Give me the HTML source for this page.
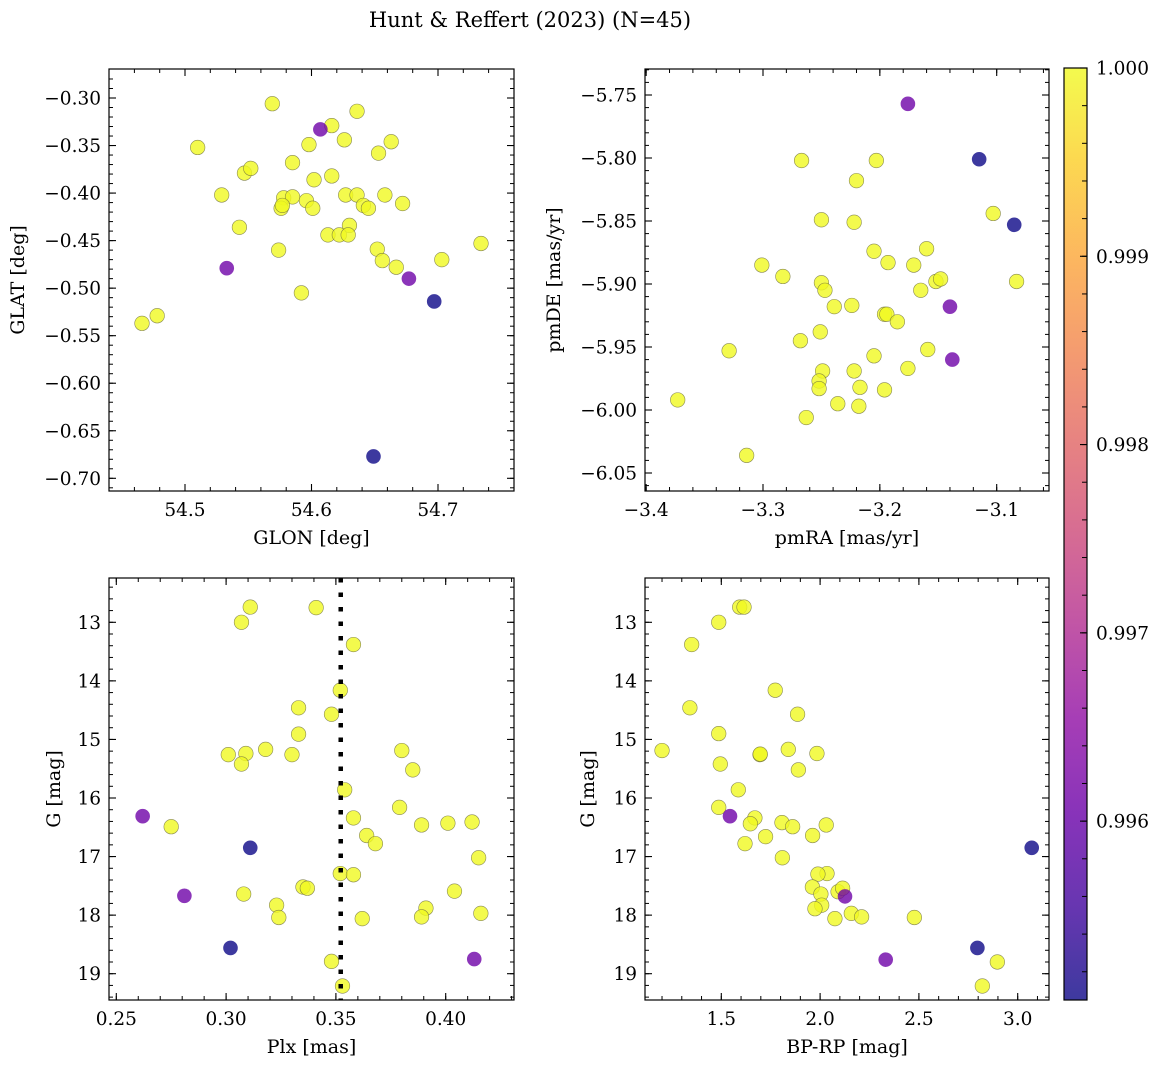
<!DOCTYPE html>
<html><head><meta charset="utf-8"><style>
html,body{margin:0;padding:0;background:#fff;}
svg{display:block;font-family:"DejaVu Serif","Liberation Serif",serif;}
</style></head><body>
<svg id="fig" width="1161" height="1068" viewBox="0 0 1161 1068" xmlns="http://www.w3.org/2000/svg">
<text x="530" y="27" text-anchor="middle" font-size="21">Hunt &amp; Reffert (2023) (N=45)</text>
</svg>
<script>
const Y=1.0, U=0.9961, D=0.99505;
// Panel 1: GLON vs GLAT
const glon=[54.569,54.636,54.616,54.607,54.510,54.598,54.626,54.663,54.653,54.585,54.547,54.552,54.602,54.616,54.529,54.578,54.585,54.596,54.576,54.577,54.601,54.627,54.636,54.641,54.645,54.658,54.672,54.543,54.630,54.613,54.622,54.629,54.574,54.652,54.656,54.667,54.703,54.734,54.533,54.677,54.592,54.697,54.478,54.466,54.649];
const glat=[-0.306,-0.314,-0.329,-0.333,-0.352,-0.349,-0.344,-0.346,-0.358,-0.368,-0.379,-0.374,-0.386,-0.382,-0.402,-0.405,-0.404,-0.408,-0.416,-0.413,-0.416,-0.402,-0.402,-0.413,-0.416,-0.402,-0.411,-0.436,-0.434,-0.444,-0.444,-0.444,-0.460,-0.459,-0.471,-0.478,-0.470,-0.453,-0.479,-0.490,-0.505,-0.514,-0.529,-0.537,-0.677];
const prob1=[Y,Y,Y,U,Y,Y,Y,Y,Y,Y,Y,Y,Y,Y,Y,Y,Y,Y,Y,Y,Y,Y,Y,Y,Y,Y,Y,Y,Y,Y,Y,Y,Y,Y,Y,Y,Y,Y,U,U,Y,D,Y,Y,D];
// Panel 2: pmRA vs pmDE
const pmra=[-3.176,-3.267,-3.203,-3.115,-3.220,-3.103,-3.085,-3.250,-3.222,-3.205,-3.160,-3.193,-3.171,-3.301,-3.283,-3.250,-3.247,-3.152,-3.148,-3.165,-3.083,-3.239,-3.224,-3.140,-3.196,-3.194,-3.185,-3.251,-3.268,-3.329,-3.205,-3.159,-3.138,-3.176,-3.249,-3.222,-3.252,-3.252,-3.217,-3.196,-3.373,-3.236,-3.218,-3.263,-3.314];
const pmde=[-5.757,-5.802,-5.802,-5.801,-5.818,-5.844,-5.853,-5.849,-5.851,-5.874,-5.872,-5.883,-5.885,-5.885,-5.894,-5.899,-5.905,-5.898,-5.896,-5.905,-5.898,-5.918,-5.917,-5.918,-5.924,-5.924,-5.930,-5.938,-5.945,-5.953,-5.957,-5.952,-5.960,-5.967,-5.969,-5.969,-5.977,-5.983,-5.982,-5.984,-5.992,-5.995,-5.997,-6.006,-6.036];
const prob2=[U,Y,Y,D,Y,Y,D,Y,Y,Y,Y,Y,Y,Y,Y,Y,Y,Y,Y,Y,Y,Y,Y,U,Y,Y,Y,Y,Y,Y,Y,Y,U,Y,Y,Y,Y,Y,Y,Y,Y,Y,Y,Y,Y];
// Panel 3: Plx vs G
const plx=[0.311,0.341,0.307,0.358,0.352,0.333,0.348,0.333,0.301,0.309,0.318,0.330,0.307,0.380,0.385,0.354,0.379,0.262,0.275,0.358,0.389,0.401,0.412,0.364,0.368,0.311,0.415,0.352,0.358,0.335,0.337,0.281,0.308,0.404,0.323,0.391,0.324,0.389,0.362,0.416,0.302,0.413,0.348,0.353];
const gmag3=[12.74,12.75,13.00,13.38,14.16,14.46,14.57,14.91,15.26,15.24,15.17,15.26,15.42,15.19,15.52,15.86,16.16,16.31,16.49,16.34,16.46,16.43,16.41,16.64,16.78,16.85,17.02,17.29,17.31,17.52,17.54,17.67,17.64,17.59,17.83,17.88,18.04,18.03,18.06,17.97,18.56,18.75,18.79,19.21];
const prob3=[Y,Y,Y,Y,Y,Y,Y,Y,Y,Y,Y,Y,Y,Y,Y,Y,Y,U,Y,Y,Y,Y,Y,Y,Y,D,Y,Y,Y,Y,Y,U,Y,Y,Y,Y,Y,Y,Y,Y,D,U,Y,Y];
const plxMedian=0.3522;
// Panel 4: BP-RP vs G
const bprp=[1.593,1.615,1.487,1.350,1.773,1.341,1.886,1.487,1.200,1.696,1.697,1.839,1.984,1.495,1.890,1.586,1.487,1.544,1.670,1.647,1.807,1.861,2.031,1.724,1.962,1.620,1.809,3.071,2.035,1.989,1.961,2.004,2.091,2.114,2.126,2.008,1.974,2.075,2.158,2.210,2.477,2.796,2.332,2.897,2.821];
const gmag4=[12.74,12.74,13.00,13.38,14.16,14.46,14.57,14.90,15.19,15.26,15.25,15.17,15.24,15.42,15.52,15.86,16.16,16.31,16.34,16.44,16.42,16.49,16.46,16.66,16.64,16.78,17.02,16.85,17.29,17.30,17.52,17.64,17.60,17.54,17.68,17.83,17.89,18.06,17.97,18.03,18.04,18.56,18.76,18.80,19.21];
const prob4=[Y,Y,Y,Y,Y,Y,Y,Y,Y,Y,Y,Y,Y,Y,Y,Y,Y,U,Y,Y,Y,Y,Y,Y,Y,Y,Y,D,Y,Y,Y,Y,Y,Y,U,Y,Y,Y,Y,Y,Y,D,U,Y,Y];
const xt1=[54.5,54.6,54.7], yt1=[-0.30,-0.35,-0.40,-0.45,-0.50,-0.55,-0.60,-0.65,-0.70];
const xt2=[-3.4,-3.3,-3.2,-3.1], yt2=[-5.75,-5.80,-5.85,-5.90,-5.95,-6.00,-6.05];
const xt3=[0.25,0.30,0.35,0.40], yt34=[13,14,15,16,17,18,19];
const xt4=[1.5,2.0,2.5,3.0];
const cbTicks=[1.000,0.999,0.998,0.997,0.996];
const vmin=0.99505, vmax=1.0;

const NS='http://www.w3.org/2000/svg';
const svg=document.getElementById('fig');
const TF=18.5, LF=19;
function mk(tag,attrs,parent){const e=document.createElementNS(NS,tag);for(const k in attrs)e.setAttribute(k,attrs[k]);(parent||svg).appendChild(e);return e;}
const stops=['#0d0887','#41049d','#6a00a8','#8f0da4','#b12a90','#cc4778','#e16462','#f2844b','#fca636','#fcce25','#f0f921'];
function hex(h){return [1,3,5].map(i=>parseInt(h.substr(i,2),16));}
function plasma(t){t=Math.max(0,Math.min(1,t));const f=t*10,i=Math.min(9,Math.floor(f)),r=f-i;const a=hex(stops[i]),b=hex(stops[i+1]);return 'rgb('+a.map((v,k)=>Math.round(v+(b[k]-v)*r)).join(',')+')';}
function lin(v0,p0,v1,p1){return v=>p0+(v-v0)*(p1-p0)/(v1-v0);}
function decimals(a){return Math.max(...a.map(v=>{const s=String(v);return s.includes('.')?s.split('.')[1].length:0;}));}
function range(step,a,b){const r=[];const s=Math.ceil(Math.min(a,b)/step-1e-6);for(let k=s;k*step<=Math.max(a,b)+1e-9;k++)r.push(k*step);return r;}

function panel(o){
  const g=mk('g',{});
  
  
  const sx=lin(o.xv[0],o.xp[0],o.xv[1],o.xp[1]), sy=lin(o.yv[0],o.yp[0],o.yv[1],o.yp[1]);
  const x0=o.box[0],x1=o.box[1],y0=o.box[2],y1=o.box[3];
  const clipId='c'+o.name;
  const cp=mk('clipPath',{id:clipId},g);mk('rect',{x:x0,y:y0,width:x1-x0,height:y1-y0},cp);
  const pg=mk('g',{'clip-path':'url(#'+clipId+')'},g);
  const idx=o.xs.map((_,i)=>i).sort((a,b)=>o.c[b]-o.c[a]);
  idx.forEach(i=>{
    const isY=o.c[i]>0.9999;
    const c=mk('circle',{cx:sx(o.xs[i]),cy:sy(o.ys[i]),r:7.3,fill:plasma((o.c[i]-vmin)/(vmax-vmin)),'fill-opacity':0.8,stroke:isY?'#6e6e40':'none','stroke-width':0.6,'stroke-opacity':0.8},pg);
    
    
  });
  if(o.vline!==undefined){
    const l=mk('line',{x1:sx(o.vline),x2:sx(o.vline),y1:y0,y2:y1,stroke:'#000','stroke-width':4.5,'stroke-dasharray':'4.5 10'},pg);
    
    
  }
  const fr=mk('rect',{x:x0,y:y0,width:x1-x0,height:y1-y0,fill:'none',stroke:'#000','stroke-width':1.2},g);
  
  
  const xa=(x0-o.xp[0])*(o.xv[1]-o.xv[0])/(o.xp[1]-o.xp[0])+o.xv[0], xb=(x1-o.xp[0])*(o.xv[1]-o.xv[0])/(o.xp[1]-o.xp[0])+o.xv[0];
  const ya=(y0-o.yp[0])*(o.yv[1]-o.yv[0])/(o.yp[1]-o.yp[0])+o.yv[0], yb=(y1-o.yp[0])*(o.yv[1]-o.yv[0])/(o.yp[1]-o.yp[0])+o.yv[0];
  range(o.xminor,xa,xb).forEach(v=>{const p=sx(v);if(p<x0+0.5||p>x1-0.5)return;mk('line',{x1:p,x2:p,y1:y1,y2:y1-4,stroke:'#000'},g);mk('line',{x1:p,x2:p,y1:y0,y2:y0+4,stroke:'#000'},g);});
  range(o.yminor,ya,yb).forEach(v=>{const p=sy(v);if(p<y0+0.5||p>y1-0.5)return;mk('line',{x1:x0,x2:x0+4,y1:p,y2:p,stroke:'#000'},g);mk('line',{x1:x1,x2:x1-4,y1:p,y2:p,stroke:'#000'},g);});
  const dx=decimals(o.xt), dy=decimals(o.yt);
  o.xt.forEach(v=>{const p=sx(v);if(p<x0-1||p>x1+1)return;
    mk('line',{x1:p,x2:p,y1:y1,y2:y1-7,stroke:'#000','stroke-width':1.1},g);mk('line',{x1:p,x2:p,y1:y0,y2:y0+7,stroke:'#000','stroke-width':1.1},g);
    const t=mk('text',{x:p,y:y1+25,'text-anchor':'middle','font-size':TF},g);t.textContent=(v<0?'\u2212':'')+Math.abs(v).toFixed(dx);
    
    });
  o.yt.forEach(v=>{const p=sy(v);if(p<y0-1||p>y1+1)return;
    mk('line',{x1:x0,x2:x0+7,y1:p,y2:p,stroke:'#000','stroke-width':1.1},g);mk('line',{x1:x1,x2:x1-7,y1:p,y2:p,stroke:'#000','stroke-width':1.1},g);
    const t=mk('text',{x:x0-8,y:p+6.5,'text-anchor':'end','font-size':TF},g);t.textContent=(v<0?'\u2212':'')+Math.abs(v).toFixed(dy);
    
    });
  const xl=mk('text',{x:(x0+x1)/2,y:y1+53,'text-anchor':'middle','font-size':LF},g);xl.textContent=o.xlabel;
  
  
  const yl=mk('text',{x:o.ylx,y:(y0+y1)/2,'text-anchor':'middle','font-size':LF,transform:'rotate(-90 '+o.ylx+' '+((y0+y1)/2)+')'},g);yl.textContent=o.ylabel;
  
  
}
panel({name:'panel-position',box:[109,514,69,491],xv:[54.5,54.7],xp:[185,438],yv:[-0.30,-0.70],yp:[98,478.3],xs:glon,ys:glat,c:prob1,xt:xt1,yt:yt1,xminor:0.02,yminor:0.01,xlabel:'GLON [deg]',ylabel:'GLAT [deg]',ylx:24});
panel({name:'panel-proper-motion',box:[645,1049,69,491],xv:[-3.3,-3.1],xp:[763,996.7],yv:[-5.75,-6.05],yp:[95,473],xs:pmra,ys:pmde,c:prob2,xt:xt2,yt:yt2,xminor:0.02,yminor:0.01,xlabel:'pmRA [mas/yr]',ylabel:'pmDE [mas/yr]',ylx:560});
panel({name:'panel-parallax',box:[109,514,578,1000],xv:[0.25,0.40],xp:[116.3,445.7],yv:[13,19],yp:[622.3,973.7],xs:plx,ys:gmag3,c:prob3,xt:xt3,yt:yt34,xminor:0.01,yminor:0.2,xlabel:'Plx [mas]',ylabel:'G [mag]',ylx:60,vline:plxMedian});
panel({name:'panel-cmd',box:[645,1049,578,1000],xv:[1.5,3.0],xp:[721.3,1017.7],yv:[13,19],yp:[622.3,973.7],xs:bprp,ys:gmag4,c:prob4,xt:xt4,yt:yt34,xminor:0.1,yminor:0.2,xlabel:'BP-RP [mag]',ylabel:'G [mag]',ylx:594});

// colorbar
const cb=mk('g',{});


const cx0=1064,cx1=1087,cy0=68,cy1=1000;
const defs=mk('defs',{},cb);const lg=mk('linearGradient',{id:'cbg',x1:0,y1:1,x2:0,y2:0},defs);
for(let k=0;k<=20;k++){mk('stop',{offset:k/20,'stop-color':plasma(k/20),'stop-opacity':0.8},lg);}
mk('rect',{x:cx0,y:cy0,width:cx1-cx0,height:cy1-cy0,fill:'url(#cbg)',stroke:'#000','stroke-width':1.2},cb);
const scb=lin(vmax,cy0,vmin,cy1);
for(let v=0.9952;v<=1.00001;v+=0.0002){const p=scb(v);if(p<cy0+1||p>cy1-1)continue;mk('line',{x1:cx1,x2:cx1-5,y1:p,y2:p,stroke:'#000'},cb);}
cbTicks.forEach(v=>{const p=scb(v);mk('line',{x1:cx1,x2:cx1-7,y1:p,y2:p,stroke:'#000','stroke-width':1.1},cb);
  const t=mk('text',{x:1096,y:p+6.5,'font-size':TF},cb);t.textContent=v.toFixed(3);
  
  });
</script>
</body></html>
